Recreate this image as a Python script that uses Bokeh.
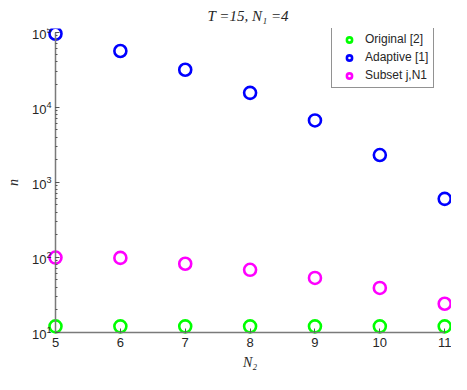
from bokeh.plotting import figure
from bokeh.models import Range1d, FixedTicker, Legend, LegendItem, LogTickFormatter
from bokeh.embed import file_html
from bokeh.resources import INLINE

# data
n2 = [5, 6, 7, 8, 9, 10, 11]
original = [12, 12, 12, 12, 12, 12, 12]
adaptive = [95000, 56000, 31500, 15500, 6650, 2300, 600]
subset = [99, 98, 82, 68, 53, 39, 24]
series_names = ["Original [2]", "Adaptive [1]", "Subset j,N1"]
series_colors = ["#00ff00", "#0000ff", "#ff00ff"]
x_ticks = [5, 6, 7, 8, 9, 10, 11]
x_min, x_max = 5, 11
y_min, y_max = 10, 1e5

# frame covers the whole figure; axes are fixed at the data bounds
p = figure(width=451, height=374, output_backend="svg", toolbar_location=None,
           y_axis_type="log",
           x_range=Range1d(4.1522, 11.1048),
           y_range=Range1d(2.740, 1.116e5),
           min_border_left=0, min_border_right=0, min_border_top=0, min_border_bottom=0)
p.title.text = "T =15, N\u2081 =4"
p.title.align = "left"
p.title.offset = 207
p.title.text_font = "Liberation Serif"
p.title.text_font_style = "italic"
p.title.text_font_size = "15px"
p.title.text_color = "#262626"

p.grid.visible = False
p.outline_line_color = None

for ax in (p.xaxis, p.yaxis):
    ax.axis_line_color = "#7a7a7a"
    ax.axis_line_width = 1.5
    ax.major_tick_line_color = "#555555"
    ax.minor_tick_line_color = "#555555"
    ax.major_tick_in = 4
    ax.major_tick_out = 0
    ax.minor_tick_in = 2
    ax.minor_tick_out = 0
    ax.major_label_text_font = "Liberation Sans"
    ax.major_label_text_font_size = "13px"
    ax.major_label_text_color = "#262626"
    ax.axis_label_text_font = "Liberation Serif"
    ax.axis_label_text_font_style = "italic"
    ax.axis_label_text_font_size = "14px"
    ax.axis_label_text_color = "#262626"

p.xaxis.ticker = FixedTicker(ticks=x_ticks)
p.xaxis.minor_tick_line_color = None
p.xaxis.axis_label = "N\u2082"
p.xaxis.axis_label_standoff = 4
p.xaxis.major_label_standoff = 6
p.xaxis.bounds = (x_min, x_max)
p.xaxis.fixed_location = y_min

p.yaxis.axis_label = "n"
p.yaxis.axis_label_standoff = 8
p.yaxis.major_label_standoff = 4
p.yaxis.bounds = (y_min, y_max)
p.yaxis.fixed_location = x_min
p.yaxis.formatter = LogTickFormatter()

items = []
for vals, name, col in zip([original, adaptive, subset], series_names, series_colors):
    r = p.scatter(n2, vals, marker="circle", size=12, fill_color=None,
                  line_color=col, line_width=2.6)
    items.append(LegendItem(label=name, renderers=[r]))

legend = Legend(items=items, location=(331, 286))
legend.label_text_font = "Liberation Sans"
legend.label_text_font_size = "12px"
legend.label_text_color = "#262626"
legend.label_height = 13
legend.glyph_height = 13
legend.glyph_width = 24
legend.label_standoff = 4
legend.spacing = 4
legend.padding = 5
legend.margin = 0
legend.border_line_color = "#262626"
legend.border_line_width = 1
legend.background_fill_alpha = 1
p.add_layout(legend)

open("out.html", "w").write(file_html(p, INLINE))
